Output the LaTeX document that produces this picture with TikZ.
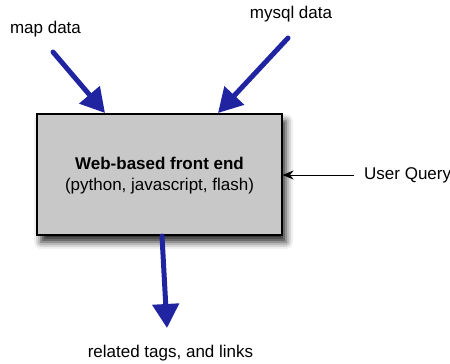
\documentclass[tikz,border=0pt]{standalone}
\usepackage{fontspec}
\setmainfont{Liberation Sans}
\usetikzlibrary{arrows.meta,shadows.blur}
\definecolor{flowblue}{RGB}{32,36,160}
\definecolor{boxgray}{RGB}{200,200,200}
\begin{document}
\begin{tikzpicture}[x=1pt,y=-1pt,
  lbl/.style={inner sep=0pt,font=\fontsize{17}{20}\selectfont},
  frontbox/.style={draw=black,line width=1.2pt,fill=boxgray,minimum width=245pt,minimum height=121pt,
    blur shadow={shadow xshift=4pt,shadow yshift=-7pt,shadow blur radius=7pt,shadow opacity=85}},
  boxtext/.style={align=center,inner sep=0pt,font=\fontsize{17}{20}\selectfont},
  flow/.style={draw=flowblue,line width=5pt,line cap=round,
    -{Triangle[width=26pt,length=24pt,fill=flowblue]}},
  query/.style={draw=black,line width=1pt,-{Stealth[length=11pt,width=9pt]}}]
\useasboundingbox (0,0) rectangle (450,364);

% central component and its caption
\node[frontbox] (box) at (159.5,174.5) {};
\node[boxtext] (boxlabel) at ([yshift=-1pt]box.center) {\textbf{Web-based front end}\\[1pt](python, javascript, flash)};

% labels
\node[lbl] (map) at (45.5,29) {map data};
\node[lbl] (mysql) at (291,14) {mysql data};
\node[lbl,anchor=west] (user) at (364,175) {User Query};
\node[lbl] (related) at (170.5,353) {related tags, and links};

% arrow end points
\coordinate (mapstart) at (53,52);
\coordinate (maptip) at (105,113);
\coordinate (mysqlstart) at (288,38);
\coordinate (mysqltip) at (218,113);
\coordinate (outstart) at (162,236);
\coordinate (outtip) at (167,328);

\draw[flow] (mapstart) -- (maptip);
\draw[flow] (mysqlstart) -- (mysqltip);
\draw[flow] (outstart) -- (outtip);
\draw[query] ([xshift=-10pt]user.west) -- (box.east |- user.west);
\end{tikzpicture}
\end{document}
